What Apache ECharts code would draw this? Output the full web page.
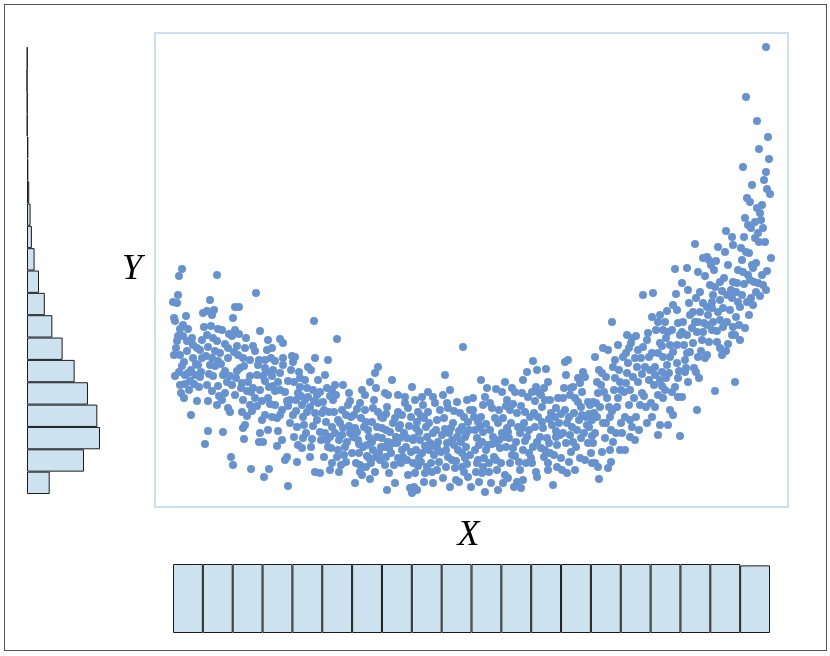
<!DOCTYPE html>
<html>
<head>
<meta charset="utf-8">
<script src="https://cdn.jsdelivr.net/npm/echarts@6/dist/echarts.min.js"></script>
<style>
html,body{margin:0;padding:0;background:#fff;}
#wrap{position:relative;width:830px;height:656px;}
#chart{position:absolute;left:0;top:0;width:830px;height:656px;}
#frame{position:absolute;left:4px;top:4px;width:821px;height:645px;border:1px solid #555;pointer-events:none;}
</style>
</head>
<body>
<div id="wrap"><div id="chart"></div><div id="frame"></div></div>
<script>
// Scatter points [X, Y] (arbitrary units)
const points = [
[0.9,22.5],[0.6,21.8],[0.5,19.9],[0.0,19.2],[0.4,19.1],[1.3,17.8],[0.1,17.6],[0.2,17.3],[0.7,16.5],[1.5,16.5],
[0.5,15.8],[1.0,15.8],[1.9,15.6],[2.0,14.9],[2.7,14.4],[0.1,13.9],[0.7,13.9],[1.4,14.3],[2.4,14.6],[0.9,12.8],
[0.2,11.8],[1.2,11.9],[1.5,12.1],[2.2,11.9],[2.7,11.7],[0.7,10.9],[1.2,11.0],[1.7,11.3],[2.1,11.0],[2.6,10.7],
[0.8,10.1],[1.1,9.6],[2.4,9.3],[1.8,7.9],[2.9,13.6],[2.5,12.9],[2.0,13.6],[0.4,15.3],[1.4,15.3],[2.9,15.4],
[0.3,14.6],[1.1,13.2],[1.8,12.4],[2.3,13.0],[0.6,12.2],[1.6,10.4],[2.8,12.2],[1.0,16.9],
[3.7,19.4],[4.4,21.9],[3.0,18.1],[3.4,18.3],[4.1,18.4],[3.9,17.9],[3.1,16.7],[3.4,15.9],[4.5,16.5],[4.9,16.4],
[4.4,15.3],[5.2,15.0],[4.2,14.3],[3.9,13.6],[4.7,14.1],[3.7,12.9],[4.5,13.3],[5.5,13.6],[4.0,11.8],[5.0,11.9],
[5.7,11.8],[3.4,10.9],[4.5,10.8],[5.2,10.1],[3.5,9.3],[4.4,8.9],[4.9,9.4],[5.5,8.6],[5.7,8.2],[3.5,6.3],
[5.0,6.2],[3.2,5.0],[5.9,15.8],[3.5,14.7],[5.5,14.6],[4.2,12.8],[5.9,10.9],[3.9,10.3],[5.2,12.3],[5.8,3.7],[6.0,2.9],
[3.3,13.8],[4.0,15.6],[4.8,13.0],[5.4,11.2],[3.6,12.0],[4.6,9.8],[5.6,16.0],[3.8,16.8],
[6.2,18.7],[6.6,18.7],[6.0,17.6],[6.2,16.4],[6.6,16.0],[6.4,14.8],[7.2,14.6],[8.0,14.8],[8.7,16.3],[8.3,20.1],
[7.0,13.6],[7.7,13.4],[8.5,12.9],[6.7,12.6],[6.9,11.1],[7.7,11.8],[8.4,11.9],[7.4,10.3],[8.0,10.6],[8.7,10.4],
[6.2,9.9],[7.0,9.4],[7.7,8.9],[8.4,8.8],[6.9,8.2],[7.9,8.3],[7.2,6.9],[7.0,6.6],[8.7,6.1],[7.1,5.5],
[8.6,5.2],[7.8,2.5],[7.3,15.6],[8.2,14.3],[6.5,13.9],[8.9,9.3],[7.5,11.2],[6.3,11.6],[8.9,7.4],
[6.4,12.3],[7.1,12.8],[7.8,10.2],[8.2,9.6],[6.8,10.6],[7.4,7.8],[8.6,13.4],[6.1,14.2],
[9.5,15.4],[10.7,15.5],[11.0,15.1],[9.9,14.6],[9.4,14.4],[9.2,13.4],[10.2,13.3],[9.8,13.6],[11.0,13.6],[11.9,13.8],
[9.0,11.8],[9.2,11.3],[9.9,11.8],[10.7,12.1],[10.2,10.3],[10.7,10.4],[11.5,11.3],[9.5,9.6],[10.2,8.9],[11.4,9.3],
[11.7,9.4],[9.2,7.9],[9.9,7.7],[10.4,7.6],[10.7,7.9],[10.5,6.3],[10.9,5.4],[9.0,5.2],[9.6,2.5],[9.1,1.7],
[11.4,3.7],[11.2,3.4],[11.5,0.8],[11.5,8.8],[9.2,12.6],[11.0,12.9],[10.0,10.8],[9.5,6.4],[11.7,7.1],[10.4,4.8],
[9.3,12.2],[10.0,12.4],[10.5,11.2],[11.2,10.2],[9.7,9.0],[10.9,8.4],[11.8,12.4],[9.6,10.7],
[14.1,17.3],[12.2,13.7],[12.0,13.2],[14.2,13.6],[13.5,12.7],[13.8,12.4],[12.1,11.2],[12.7,10.7],[13.4,10.6],[14.0,10.4],
[14.7,10.2],[12.3,9.4],[13.2,9.4],[12.5,10.1],[14.5,9.1],[12.0,7.9],[13.0,7.7],[14.2,8.1],[14.9,8.1],[12.4,6.7],
[13.1,6.9],[13.3,6.1],[13.9,5.5],[14.7,6.2],[12.5,4.9],[12.9,4.6],[13.8,4.7],[12.4,3.2],[14.2,2.2],[14.7,2.1],
[13.7,3.7],[13.5,9.7],[14.4,9.9],[12.9,8.9],[13.7,8.7],[14.5,11.4],[13.2,11.4],[12.6,12.2],[12.1,5.7],[14.4,7.4],
[12.3,8.3],[12.8,9.8],[13.4,8.2],[14.1,9.3],[13.0,5.6],[14.0,6.8],[14.8,5.4],[12.7,11.6],
[16.4,15.5],[15.5,13.4],[15.2,11.9],[15.4,10.6],[15.9,10.4],[16.2,10.9],[17.0,10.9],[15.0,9.2],[16.0,9.4],[16.9,8.4],
[17.5,8.9],[15.3,7.2],[15.9,6.7],[16.7,7.1],[15.7,5.7],[15.2,6.1],[16.6,5.4],[17.4,5.2],[17.7,6.1],[15.8,4.6],
[16.5,4.4],[17.2,4.7],[15.9,3.1],[16.8,2.9],[17.3,3.2],[16.1,8.2],[17.8,7.7],[16.3,9.9],[17.6,10.1],[15.5,4.7],
[15.1,3.7],[17.9,4.1],[17.3,7.9],[18.0,5.7],[17.1,3.9],[16.5,7.4],[15.6,8.2],[16.6,2.2],[15.7,2.4],[17.0,6.6],
[15.1,8.4],[15.7,9.8],[16.2,6.1],[16.9,5.9],[17.6,6.8],[15.4,5.4],[16.4,3.7],[17.7,9.3],
[18.2,1.1],[19.7,1.5],[20.5,12.7],[20.2,12.1],[19.7,11.2],[18.9,10.4],[19.2,9.9],[18.7,9.1],[20.1,9.4],[20.0,8.6],
[18.1,7.9],[18.8,7.6],[18.2,6.6],[18.4,6.2],[19.5,6.4],[20.4,5.7],[20.9,5.6],[19.0,4.7],[19.4,4.9],[20.0,4.4],
[20.6,4.1],[18.3,3.1],[18.7,2.9],[19.8,3.1],[19.3,2.7],[20.7,3.4],[19.9,7.2],[20.8,7.7],[18.5,5.4],[19.6,5.7],
[20.4,6.7],[19.1,6.7],[20.8,4.7],[20.3,3.7],[18.6,4.1],[19.6,3.6],[19.2,8.4],[20.3,10.6],[18.7,2.2],[20.2,2.2],
[18.4,8.5],[19.3,7.2],[19.9,5.2],[20.5,8.2],[18.6,5.0],[19.4,3.8],[20.9,6.6],[18.9,1.9],
[21.4,0.4],[21.9,11.4],[21.2,10.1],[21.5,9.9],[22.5,9.9],[23.2,9.7],[23.9,10.7],[23.5,8.6],[22.9,7.9],[23.8,7.7],
[21.0,7.6],[22.7,6.9],[22.6,6.6],[21.3,6.4],[21.7,6.2],[24.0,5.4],[21.5,5.2],[22.0,5.1],[22.4,5.1],[22.9,4.4],
[21.8,4.1],[21.3,3.7],[23.0,3.7],[23.4,3.4],[22.1,2.9],[22.8,3.1],[21.6,2.1],[22.2,1.1],[23.5,1.9],[23.7,0.6],
[23.9,0.1],[22.3,5.7],[23.3,4.7],[21.1,4.7],[22.0,7.1],[23.1,6.1],[21.4,8.7],[22.5,8.2],[23.6,6.8],[21.2,2.9],
[21.3,8.0],[22.2,7.6],[22.7,5.6],[23.4,5.6],[21.6,4.6],[22.5,3.6],[23.8,4.2],[23.2,9.1],
[24.2,9.4],[24.9,9.7],[25.0,8.9],[26.0,9.7],[26.2,9.1],[24.4,7.2],[25.1,7.6],[26.4,7.4],[24.1,5.6],[24.7,5.4],
[25.4,5.7],[25.7,5.1],[26.5,5.2],[24.3,4.4],[24.9,4.1],[25.6,4.4],[26.1,3.9],[24.0,3.1],[24.8,3.2],[25.8,3.1],
[26.6,3.2],[24.2,2.1],[25.2,2.1],[25.9,2.2],[24.1,0.7],[24.4,0.4],[26.3,6.4],[25.3,6.7],[24.5,8.2],[25.5,8.2],
[26.7,8.4],[26.8,4.2],[25.1,1.2],[26.0,1.1],[24.6,6.2],[26.4,2.4],[25.5,10.2],[26.9,5.9],[24.5,2.8],[25.9,4.9],
[24.3,6.6],[24.8,7.8],[25.6,7.1],[26.0,6.1],[25.2,4.8],[26.4,4.6],[24.6,3.6],[25.4,2.7],
[29.0,14.7],[27.2,11.9],[27.7,10.4],[29.4,9.4],[27.5,8.6],[28.7,8.1],[29.1,7.7],[27.1,7.6],[28.0,7.1],[29.5,7.2],
[27.6,6.1],[28.4,5.7],[29.2,5.7],[27.4,5.1],[28.1,4.9],[28.8,5.2],[29.3,4.7],[27.5,3.7],[27.9,3.4],[28.9,4.1],
[29.2,3.6],[29.7,3.9],[27.0,1.6],[27.7,0.7],[28.3,1.4],[28.6,1.2],[29.5,1.7],[29.8,0.7],[27.3,2.7],[28.2,2.6],
[28.9,2.7],[28.5,4.4],[29.6,6.4],[27.8,6.6],[28.9,6.7],[27.0,9.9],[28.4,9.2],[29.7,8.4],[27.3,4.4],[29.1,2.2],
[27.4,9.1],[28.1,8.3],[28.6,6.3],[29.3,6.0],[27.2,6.5],[28.3,3.3],[29.4,3.0],[27.9,5.4],
[30.8,11.4],[31.4,10.6],[31.2,9.7],[32.3,10.5],[31.9,8.6],[30.0,8.4],[30.1,7.7],[30.7,6.7],[31.0,6.2],[31.7,6.4],
[32.5,7.1],[30.4,5.6],[30.9,5.2],[32.0,5.7],[32.2,5.1],[30.2,4.4],[31.3,4.4],[32.7,4.6],[30.5,3.4],[31.1,3.6],
[32.1,3.7],[30.3,2.2],[30.9,2.1],[31.6,2.2],[32.4,2.4],[30.6,1.2],[31.8,1.1],[31.2,0.2],[32.5,0.4],[32.8,3.1],
[30.2,6.4],[32.2,7.6],[31.7,9.1],[32.6,8.4],[30.8,7.7],[30.4,3.1],[32.3,3.4],[31.5,4.9],[31.0,2.7],[30.0,9.6],
[30.5,7.2],[31.3,7.0],[31.9,5.0],[32.6,5.4],[30.6,4.9],[31.6,3.1],[32.9,6.1],[31.0,8.9],
[33.2,11.2],[33.9,10.6],[34.2,10.2],[33.4,9.4],[34.9,10.1],[35.5,9.7],[33.7,8.4],[34.4,8.1],[35.2,8.2],[35.7,7.7],
[33.0,7.6],[33.8,7.1],[34.5,6.7],[35.1,7.1],[33.1,5.7],[33.6,5.6],[34.7,6.1],[35.4,5.7],[33.3,4.7],[34.0,4.6],
[35.0,4.4],[35.6,4.1],[33.7,3.1],[34.6,3.2],[35.3,3.1],[33.2,1.9],[33.5,1.6],[34.4,1.2],[35.0,1.4],[33.0,1.1],
[34.1,0.7],[34.8,0.6],[35.0,11.4],[33.4,6.6],[34.3,5.2],[35.8,3.6],[34.7,2.4],[33.9,3.9],[32.9,10.2],[35.4,12.2],
[33.3,8.8],[34.0,9.0],[34.9,6.6],[35.6,6.4],[33.5,6.2],[34.2,3.8],[35.2,5.3],[34.8,8.8],
[36.0,13.3],[36.4,12.4],[37.3,12.5],[35.9,10.2],[36.3,10.7],[36.6,10.1],[37.2,9.4],[37.7,9.4],[36.9,8.7],[38.5,9.6],
[36.1,8.1],[36.5,7.7],[37.8,8.1],[38.2,7.7],[36.2,6.7],[37.0,6.6],[37.9,6.9],[38.6,7.1],[36.7,5.7],[37.4,5.6],
[38.3,5.7],[36.0,4.7],[36.8,4.6],[37.6,5.1],[38.4,4.9],[37.1,3.7],[37.5,3.1],[38.1,3.9],[38.8,3.6],[36.3,2.2],
[36.4,1.7],[37.5,2.4],[38.0,0.9],[38.4,2.7],[35.9,3.1],[36.9,7.2],[37.5,11.2],[38.3,8.6],[37.2,4.4],[38.7,5.9],
[36.2,9.3],[36.8,9.9],[37.6,7.5],[38.3,6.3],[36.4,5.2],[37.7,4.1],[38.8,8.0],[37.1,10.6],
[39.2,13.2],[39.5,13.4],[40.0,10.7],[40.5,11.6],[41.0,12.2],[41.2,11.7],[40.7,11.1],[39.0,9.6],[39.7,9.9],[40.5,9.2],
[40.8,8.7],[41.5,9.2],[41.7,8.9],[39.2,8.4],[40.1,8.1],[41.3,7.7],[39.4,7.1],[39.9,6.7],[40.6,7.4],[41.4,6.9],
[39.0,6.1],[39.7,5.9],[41.1,6.1],[39.3,5.1],[40.0,5.2],[41.5,5.1],[39.8,4.2],[40.7,3.6],[41.2,3.4],[38.9,2.4],
[39.4,2.1],[40.2,2.4],[41.8,4.1],[40.4,6.4],[41.6,6.7],[40.3,4.7],[41.9,3.1],[40.9,10.2],[39.6,3.2],[39.1,10.6],
[39.3,11.9],[40.2,9.6],[40.9,7.9],[41.6,8.0],[39.6,7.7],[40.8,5.6],[41.9,5.8],[39.8,10.6],
[43.9,17.2],[42.2,13.7],[43.0,14.6],[43.5,14.4],[44.5,14.9],[42.9,12.1],[44.0,12.7],[44.6,12.4],[42.4,11.2],[42.8,10.9],
[44.2,11.6],[44.7,11.2],[42.0,9.2],[42.3,9.1],[43.4,9.6],[42.7,8.7],[43.6,8.7],[44.4,8.7],[43.7,7.7],[42.1,8.1],
[43.0,7.1],[44.8,7.1],[42.2,6.1],[43.8,6.4],[44.3,6.1],[43.2,5.6],[42.0,5.1],[42.9,4.2],[43.7,4.4],[44.7,4.4],
[42.2,3.1],[42.5,2.7],[43.8,3.2],[43.5,2.6],[42.6,1.5],[43.3,7.1],[42.5,10.1],[44.1,10.4],[41.9,7.4],[44.0,5.2],
[42.6,12.4],[43.3,11.7],[44.2,13.4],[43.1,10.2],[44.5,9.6],[42.4,7.7],[43.9,8.3],[44.8,10.4],
[47.0,19.9],[48.0,20.1],[47.9,17.7],[45.4,15.9],[45.9,15.6],[45.8,15.1],[46.5,14.4],[47.0,14.7],[47.4,15.4],[47.5,16.1],
[45.3,14.1],[45.0,13.7],[45.5,13.1],[46.4,12.7],[47.2,12.7],[47.7,12.4],[45.4,12.1],[46.0,11.7],[47.6,11.4],[48.1,10.9],
[45.1,10.2],[45.6,8.9],[46.7,8.9],[47.3,8.7],[47.8,9.1],[45.2,7.7],[45.7,7.4],[46.3,7.7],[47.4,7.1],[45.9,6.7],
[46.6,6.4],[44.9,6.1],[45.7,5.7],[46.2,5.4],[45.7,10.4],[46.9,10.1],[47.9,7.7],[46.5,11.2],[45.2,4.4],[46.8,13.6],
[45.6,14.6],[46.2,13.6],[46.9,12.0],[47.6,13.7],[46.1,9.6],[47.1,9.8],[45.3,11.1],[46.3,15.8],
[50.2,22.5],[49.0,16.4],[49.3,15.6],[48.7,17.9],[48.5,17.2],[49.2,17.2],[50.0,18.9],[50.4,18.4],[49.5,16.2],[50.5,17.1],
[50.7,15.9],[48.7,15.1],[49.7,14.9],[50.0,14.2],[47.9,14.1],[48.5,14.1],[49.0,13.7],[48.2,11.9],[48.9,12.2],[49.4,12.9],
[48.7,11.4],[49.3,11.6],[50.4,13.1],[49.9,10.2],[50.5,11.6],[48.5,9.9],[49.0,9.6],[50.5,9.7],[49.5,6.9],[48.2,8.7],
[49.7,8.4],[50.0,7.9],[48.7,6.9],[48.5,5.9],[50.7,5.8],[50.2,10.7],[49.7,13.7],[48.2,12.7],[49.2,10.4],[50.4,14.9],
[48.3,16.4],[48.9,14.8],[49.9,16.4],[50.6,12.3],[49.6,12.1],[48.9,10.8],[50.3,20.0],[49.4,18.3],
[51.4,22.6],[52.2,25.0],[50.9,21.1],[51.5,20.4],[53.0,23.6],[53.4,23.7],[53.6,23.4],[52.7,20.2],[53.7,20.9],[52.0,18.2],
[51.7,17.9],[52.2,17.2],[53.0,19.1],[53.4,18.7],[53.5,17.9],[52.5,17.2],[53.1,17.1],[51.4,15.9],[50.9,16.2],[52.4,16.2],
[53.0,16.2],[51.4,14.1],[51.7,14.2],[52.5,13.7],[53.2,13.6],[51.2,12.2],[51.3,12.6],[52.1,12.6],[52.3,12.2],[51.5,11.2],
[53.4,13.9],[52.4,8.4],[50.9,9.7],[53.4,16.9],[52.7,18.2],[51.0,17.2],[52.0,15.1],[52.9,15.4],[52.5,22.2],[51.1,14.9],
[51.6,19.1],[52.3,19.6],[53.2,21.8],[51.9,16.6],[52.8,14.3],[53.6,15.2],[51.2,13.4],[52.6,11.6],
[55.3,26.3],[54.5,24.7],[55.9,25.7],[56.0,24.9],[53.8,22.9],[55.5,22.9],[54.7,21.2],[54.2,20.7],[56.0,21.2],[56.4,21.1],
[55.4,19.9],[54.7,19.4],[55.9,19.6],[56.3,20.2],[54.0,19.9],[53.9,19.2],[53.9,18.6],[55.0,18.6],[55.7,18.4],[56.5,19.2],
[56.7,18.7],[54.0,17.2],[53.9,16.4],[54.7,17.4],[56.0,16.7],[56.2,15.9],[55.0,16.7],[55.9,15.9],[54.4,15.2],[54.7,14.6],
[54.9,13.9],[56.7,15.4],[56.2,11.2],[54.2,10.3],[54.5,18.2],[55.4,17.2],[54.1,22.4],[55.2,24.2],[56.5,22.4],[55.5,15.0],
[54.3,23.3],[55.1,21.6],[55.8,20.4],[56.3,17.7],[54.4,16.3],[55.3,14.3],[56.6,16.9],[54.9,20.3],
[59.3,44.7],[57.3,39.7],[58.4,37.3],[59.5,35.7],[58.6,34.5],[59.6,33.5],[57.0,32.7],[59.3,32.2],[59.1,31.4],[57.9,30.9],
[59.4,30.5],[59.7,30.0],[57.4,29.6],[57.7,29.2],[58.9,28.9],[58.4,28.6],[58.7,28.1],[58.8,27.4],[59.0,26.6],[57.5,26.9],
[57.8,26.6],[58.5,26.1],[58.2,25.6],[58.6,25.2],[57.1,25.7],[57.3,24.2],[57.6,24.1],[59.8,23.6],[56.8,24.6],[56.9,23.4],
[58.3,23.1],[58.0,22.6],[57.0,22.2],[57.5,21.9],[58.9,21.9],[58.1,21.2],[57.7,21.4],[58.5,21.1],[59.0,20.9],[59.3,20.4],
[56.9,19.9],[57.4,19.2],[57.8,19.6],[58.0,18.9],[57.2,16.6],[57.6,17.9],
[57.2,27.6],[58.2,27.2],[59.2,25.2],[57.9,22.9],[59.4,22.3],[58.7,19.8],[57.1,21.0],[58.3,20.2]
];

// Bottom histogram of X: 20 bins
const xBinLabels = ['b1','b2','b3','b4','b5','b6','b7','b8','b9','b10','b11','b12','b13','b14','b15','b16','b17','b18','b19','b20'];
const xBinCounts = [50,50,50,50,50,50,50,50,50,50,50,50,50,50,50,50,50,50,50,49];

// Left histogram of Y: 20 bins, from lowest Y to highest Y
const yBinLabels = ['c1','c2','c3','c4','c5','c6','c7','c8','c9','c10','c11','c12','c13','c14','c15','c16','c17','c18','c19','c20'];
const yBinCounts = [51,128,164,158,137,107,80,57,40,27,17,11,8,5,3,3,1,1,0,1];

const xLabel = 'X';
const yLabel = 'Y';

const hidden = {axisLine:{show:false},axisTick:{show:false},axisLabel:{show:false},splitLine:{show:false}};
const labelStyle = {fontFamily:'Liberation Serif', fontStyle:'italic', fontSize:36, color:'#000'};
const barStyle = {color:'#cde2ef', borderColor:'#1a1a1a', borderWidth:1};

const chart = echarts.init(document.getElementById('chart'), null, {renderer:'canvas'});
chart.setOption({
  animation:false,
  backgroundColor:'#fff',
  grid:[
    {left:155, top:33, width:633, height:474, show:true, borderColor:'#cbe1f1', borderWidth:2, backgroundColor:'transparent'},
    {left:173, top:564, width:597, height:69},
    {left:27, top:47, width:73, height:447}
  ],
  xAxis:[
    Object.assign({gridIndex:0, type:'value', min:-1.8, max:61.5, name:xLabel, nameLocation:'middle', nameGap:11, nameTextStyle:Object.assign({padding:[0,6,0,0]}, labelStyle)}, hidden),
    Object.assign({gridIndex:1, type:'category', data:xBinLabels, boundaryGap:true}, hidden),
    Object.assign({gridIndex:2, type:'value', min:0, max:164}, hidden)
  ],
  yAxis:[
    Object.assign({gridIndex:0, type:'value', min:-1.3, max:46.1, name:yLabel, nameLocation:'middle', nameRotate:0, nameGap:13, nameTextStyle:Object.assign({padding:[4,0,0,0]}, labelStyle)}, hidden),
    Object.assign({gridIndex:1, type:'value', min:0, max:50}, hidden),
    Object.assign({gridIndex:2, type:'category', data:yBinLabels, boundaryGap:true}, hidden)
  ],
  series:[
    {type:'scatter', xAxisIndex:0, yAxisIndex:0, data:points, symbol:'circle', symbolSize:8,
     itemStyle:{color:'#6792d0', opacity:1}, silent:true},
    {type:'bar', xAxisIndex:1, yAxisIndex:1, data:xBinCounts, barWidth:'100%', itemStyle:barStyle, silent:true},
    {type:'bar', xAxisIndex:2, yAxisIndex:2, data:yBinCounts, barWidth:'100%', itemStyle:barStyle, silent:true}
  ]
});
</script>
</body>
</html>
